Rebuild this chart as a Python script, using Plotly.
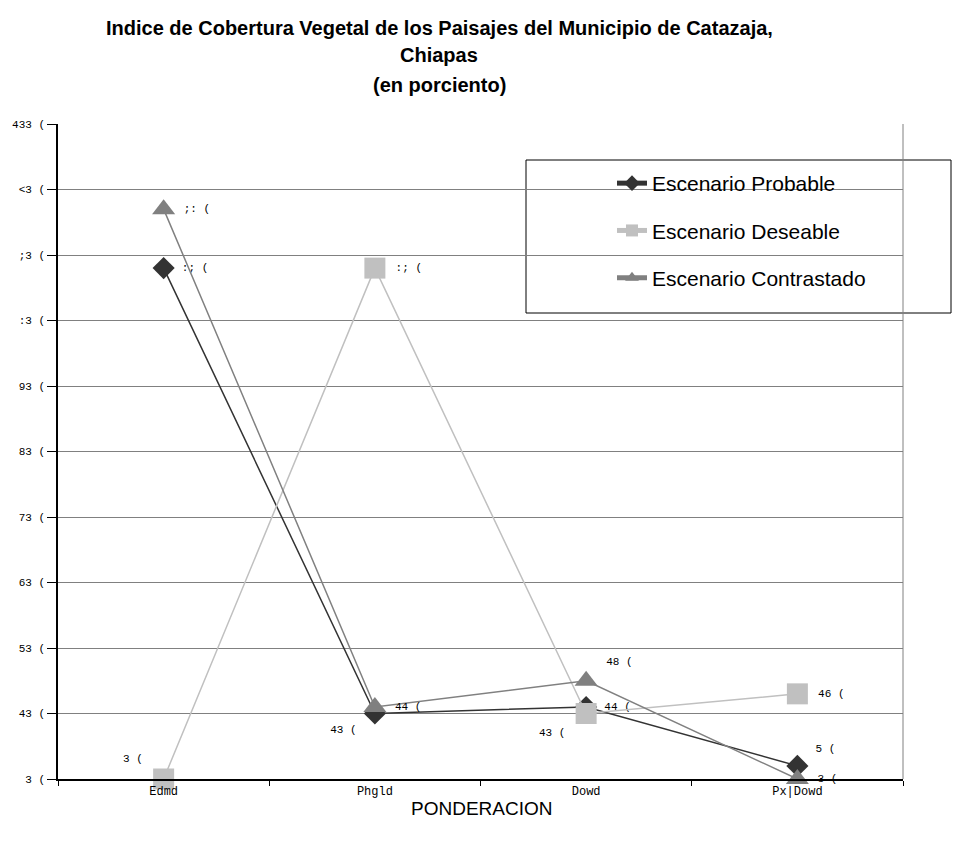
import plotly.graph_objects as go

# categories as they appear on the chart (the font mapping is shifted)
categorias = ["Edmd", "Phgld", "Dowd", "Px|Dowd"]

probable = [78, 10, 11, 2]
deseable = [0, 78, 10, 13]
contrastado = [87, 11, 15, 0]

y_ticks = [0, 10, 20, 30, 40, 50, 60, 70, 80, 90, 100]

# page has an 8px body margin, so the figure is a bit smaller than the window
OFF = 8
W, H = 961 - OFF, 846 - OFF
PLOT_L, PLOT_R, PLOT_T, PLOT_B = 58, 903, 124, 779  # in window pixels
MONO = "Liberation Mono, DejaVu Sans Mono, monospace"


def shifted(s):
    # the original document renders text with a 3-code-point offset
    return "".join(chr(ord(c) + 3) for c in s)


def label(v):
    return shifted(str(v)) + " " + shifted("%")


def px_x(px):
    return (px - PLOT_L) / (PLOT_R - PLOT_L)


def px_y(py):
    return (PLOT_B - py) / (PLOT_B - PLOT_T)


series = [
    ("Escenario Probable", probable, "#333333", "diamond", 17,
     ["middle right", "bottom left", "middle right", "top right"]),
    ("Escenario Deseable", deseable, "#c0c0c0", "square", 21,
     ["top left", "middle right", "bottom left", "middle right"]),
    ("Escenario Contrastado", contrastado, "#808080", "triangle-up", 20,
     ["middle right", "middle right", "top right", "middle right"]),
]

fig = go.Figure()
for name, vals, color, symbol, size, pos in series:
    fig.add_trace(
        go.Scatter(
            x=categorias,
            y=vals,
            name=name,
            legendgroup=name,
            mode="lines+markers+text",
            line=dict(color=color, width=1.5),
            marker=dict(symbol=symbol, size=size, color=color),
            text=[" " + label(v) + " " for v in vals],
            textposition=pos,
            textfont=dict(family=MONO, size=11, color="#000000"),
            cliponaxis=False,
        )
    )

fig.update_layout(
    width=W,
    height=H,
    paper_bgcolor="#ffffff",
    plot_bgcolor="#ffffff",
    margin=dict(l=PLOT_L - OFF, r=W - (PLOT_R - OFF), t=PLOT_T - OFF,
                b=H - (PLOT_B - OFF), autoexpand=False),
    font=dict(family="Arial, Liberation Sans", color="#000000"),
    showlegend=True,
    legend=dict(
        x=px_x(612),
        y=px_y(163),
        xanchor="left",
        yanchor="top",
        bgcolor="rgba(0,0,0,0)",
        font=dict(size=21, family="Arial, Liberation Sans"),
        traceorder="grouped",
        tracegroupgap=17,
        itemsizing="constant",
    ),
)

fig.update_xaxes(
    range=[-0.5, 3.5],
    showgrid=False,
    showline=True,
    linecolor="#000000",
    linewidth=1.5,
    ticks="outside",
    tickson="boundaries",
    ticklen=5,
    tickcolor="#000000",
    tickfont=dict(family=MONO, size=12),
    zeroline=False,
)
fig.update_yaxes(
    range=[0, 100],
    tickvals=y_ticks,
    ticktext=[label(v) for v in y_ticks],
    showgrid=True,
    gridcolor="#808080",
    gridwidth=1,
    showline=True,
    linecolor="#000000",
    linewidth=1.5,
    ticks="outside",
    ticklen=9,
    tickcolor="#000000",
    tickfont=dict(family=MONO, size=11),
    zeroline=False,
)

# right frame line and legend box
fig.add_shape(type="line", xref="paper", yref="paper", x0=1, x1=1, y0=0, y1=1,
              line=dict(color="#808080", width=1))
fig.add_shape(type="rect", xref="paper", yref="paper",
              x0=px_x(526), x1=px_x(951), y0=px_y(313), y1=px_y(160),
              line=dict(color="#000000", width=1), fillcolor="#ffffff", layer="below")

titulo = [
    ("Indice de Cobertura Vegetal de los Paisajes del Municipio de Catazaja,", 28),
    ("Chiapas", 55),
    ("(en porciento)", 85),
]
for txt, ypix in titulo:
    fig.add_annotation(
        text="<b>" + txt + "</b>", xref="paper", yref="paper",
        x=px_x(439), y=px_y(ypix), xanchor="center", yanchor="middle",
        showarrow=False, font=dict(size=20, family="Arial, Liberation Sans"),
    )

fig.add_annotation(
    text="PONDERACION", xref="paper", yref="paper",
    x=px_x(481), y=px_y(808), xanchor="center", yanchor="middle",
    showarrow=False,
    font=dict(size=19, family="Liberation Sans Narrow, Arial Narrow, Arial"),
)

fig.write_html("out.html")
